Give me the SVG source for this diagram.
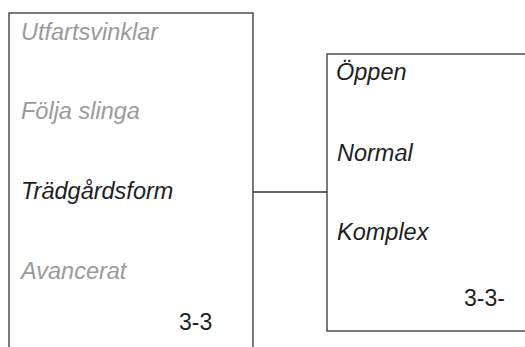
<svg xmlns="http://www.w3.org/2000/svg" width="525" height="347" viewBox="0 0 525 347">
<style>
.box{fill:#fff;stroke:#333;stroke-width:1.3}
.t{font-family:"Liberation Sans",Arial,sans-serif;font-size:23.5px;font-style:italic}
.g{fill:#9a9a9a}
.k{fill:#1e1e1e}
.n{font-family:"Liberation Sans",Arial,sans-serif;font-size:23px;fill:#1e1e1e}
.c{stroke:#333;stroke-width:1.3;fill:none}
</style>
<rect width="525" height="347" fill="#fff"/>
<g id="connectors">
<line class="c" x1="253" y1="192" x2="327" y2="192"/>
</g>
<g id="menu-left">
<rect class="box" x="9" y="13" width="244" height="350"/>
<text class="t g" x="21" y="39.5">Utfartsvinklar</text>
<text class="t g" x="21" y="119">Följa slinga</text>
<text class="t k" x="21" y="198.5">Trädgårdsform</text>
<text class="t g" x="21" y="278.5">Avancerat</text>
<text class="n" x="179" y="329.5">3-3</text>
</g>
<g id="menu-right">
<rect class="box" x="327" y="54" width="220" height="277"/>
<text class="t k" x="336" y="80">Öppen</text>
<text class="t k" x="337" y="161">Normal</text>
<text class="t k" x="337" y="240">Komplex</text>
<text class="n" x="464" y="305.5">3-3-</text>
</g>
</svg>
